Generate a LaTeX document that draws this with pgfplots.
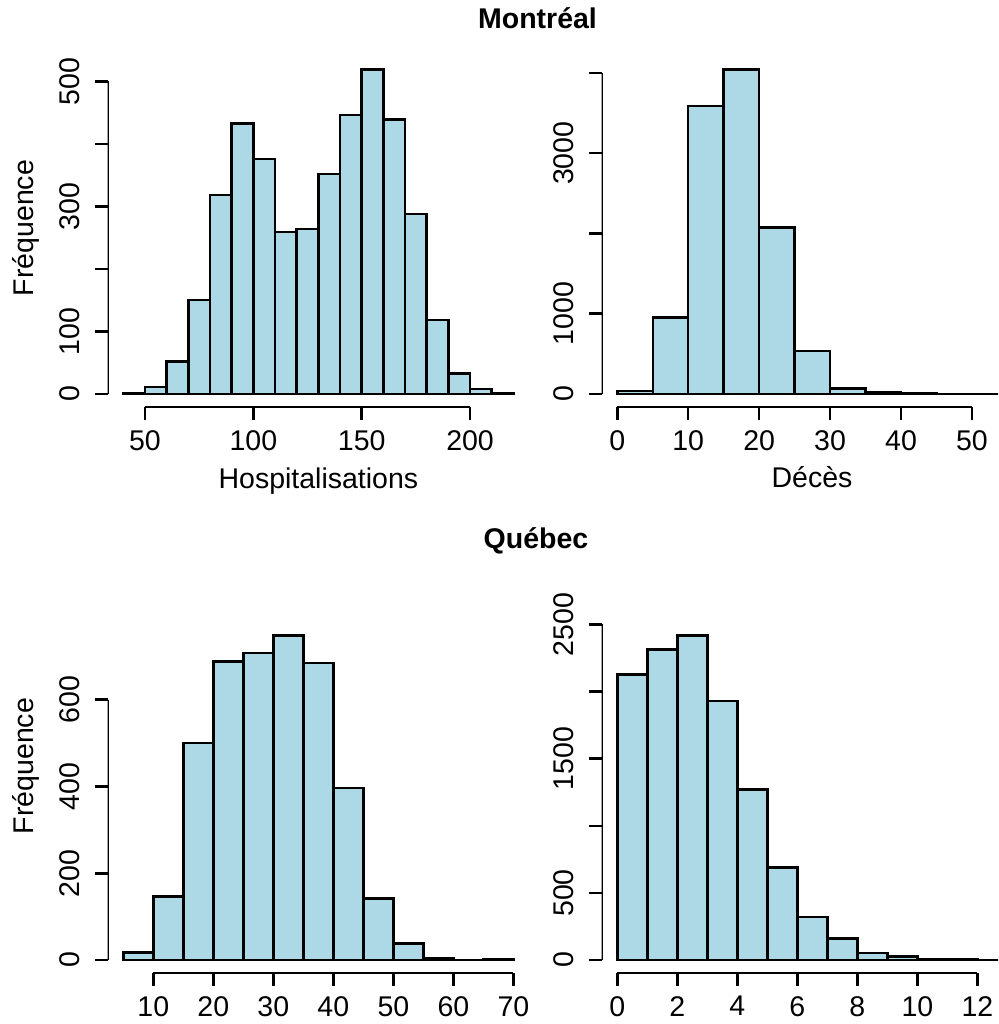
\documentclass[border=0pt]{standalone}
\usepackage{fontspec}
\setmainfont{Liberation Sans}
\usepackage{pgfplots}
\pgfplotsset{compat=1.18}
\definecolor{lightblue}{HTML}{ADD8E6}
\newcommand\fs{\fontsize{14.25pt}{17pt}\selectfont}
\pgfplotsset{
  rstyle/.style={
    scale only axis, width=210.65pt, height=175.25pt,
    anchor=south west,
    axis x line*=bottom, axis y line*=left,
    axis line style={draw=none},
    tick align=outside, major tick length=6.35pt,
    every tick/.style={black, line width=1.25pt},
    tick label style={font=\fs},
    /pgf/number format/assume math mode=true,
    /pgf/number format/1000 sep={},
    xticklabel style={anchor=north, inner sep=0pt, yshift=-5pt},
    yticklabel style={rotate=90, anchor=south, inner sep=0pt, yshift=7.5pt},
  },
  hbar/.style={ybar interval, fill=lightblue, draw=black, line width=1.25pt},
}
\begin{document}
\begin{tikzpicture}
\useasboundingbox (0,0) rectangle (499pt,-512pt);
\clip (0,0) rectangle (499pt,-512pt);

% Montreal - Hospitalisations
\begin{axis}[rstyle, at={(53.85pt,-203.5pt)},
  xmin=32.8, xmax=227.2, ymin=-20.76, ymax=539.76,
  xtick={50,100,150,200},
  ytick={0,100,200,300,400,500}, yticklabels={0,100,,300,,500}]
\addplot[hbar] coordinates {(40,2) (50,11) (60,52) (70,150) (80,318) (90,433) (100,376) (110,259) (120,264) (130,352) (140,446) (150,519) (160,439) (170,288) (180,118) (190,33) (200,8) (210,1) (220,1)};
\draw[line width=1.25pt] (axis cs:50,-20.76) -- (axis cs:200,-20.76);
\draw[line width=1.25pt] (axis cs:32.8,0) -- (axis cs:32.8,500);
\end{axis}

% Montreal - Deces
\begin{axis}[rstyle, at={(300.85pt,-203.5pt)},
  xmin=-2.2, xmax=57.2, ymin=-161.68, ymax=4203.68,
  xtick={0,10,20,30,40,50},
  ytick={0,1000,2000,3000,4000}, yticklabels={0,1000,,3000,}]
\addplot[hbar] coordinates {(0,40) (5,954) (10,3585) (15,4042) (20,2075) (25,535) (30,66) (35,20) (40,5) (45,2) (50,1) (55,1)};
\draw[line width=1.25pt] (axis cs:0,-161.68) -- (axis cs:50,-161.68);
\draw[line width=1.25pt] (axis cs:-2.2,0) -- (axis cs:-2.2,4000);
\end{axis}

% Quebec - Hospitalisations
\begin{axis}[rstyle, at={(53.85pt,-486.5pt)},
  xmin=2.4, xmax=72.6, ymin=-29.92, ymax=777.92,
  xtick={10,20,30,40,50,60,70},
  ytick={0,200,400,600}]
\addplot[hbar] coordinates {(5,17) (10,146) (15,500) (20,688) (25,708) (30,748) (35,685) (40,397) (45,142) (50,38) (55,3) (60,0) (65,2) (70,2)};
\draw[line width=1.25pt] (axis cs:10,-29.92) -- (axis cs:70,-29.92);
\draw[line width=1.25pt] (axis cs:2.4,0) -- (axis cs:2.4,600);
\end{axis}

% Quebec - Deces
\begin{axis}[rstyle, at={(300.85pt,-486.5pt)},
  xmin=-0.52, xmax=13.52, ymin=-96.72, ymax=2514.72,
  xtick={0,2,4,6,8,10,12},
  ytick={0,500,1000,1500,2000,2500}, yticklabels={0,500,,1500,,2500}]
\addplot[hbar] coordinates {(0,2128) (1,2314) (2,2418) (3,1930) (4,1270) (5,690) (6,322) (7,159) (8,54) (9,25) (10,8) (11,3) (12,1) (13,1)};
\draw[line width=1.25pt] (axis cs:0,-96.72) -- (axis cs:12,-96.72);
\draw[line width=1.25pt] (axis cs:-0.52,0) -- (axis cs:-0.52,2500);
\end{axis}

\node[font=\fs\bfseries, anchor=base] at (268.75pt,-14pt) {Montréal};
\node[font=\fs\bfseries, anchor=base] at (268pt,-274pt) {Québec};
\node[font=\fs, anchor=base] at (159.2pt,-244pt) {Hospitalisations};
\node[font=\fs, anchor=base] at (406pt,-243.75pt) {Décès};
\node[font=\fs, rotate=90, anchor=base] at (16.65pt,-114pt) {Fréquence};
\node[font=\fs, rotate=90, anchor=base] at (16.65pt,-383pt) {Fréquence};
\end{tikzpicture}
\end{document}
